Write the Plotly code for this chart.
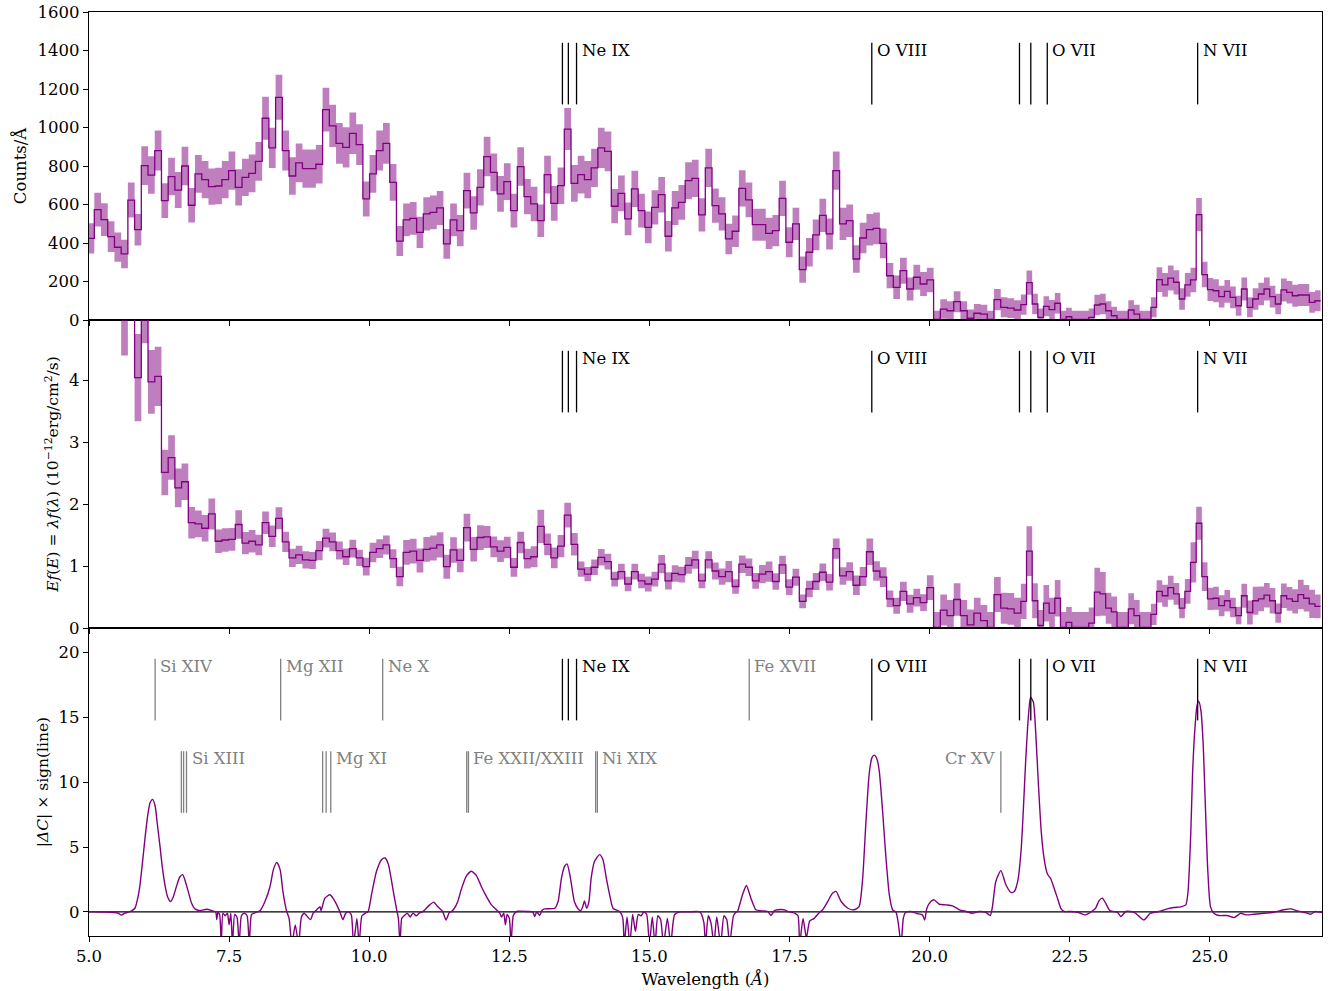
import numpy as np
import plotly.graph_objects as go
from plotly.subplots import make_subplots

# ---------------- data ----------------
# bin edges (Angstrom): two regions of slightly different bin width
edges_a = 4.975 + 0.1198 * np.arange(140)
edges_b = edges_a[-1] + 0.1009 * np.arange(1, 54)
bin_edges = np.concatenate([edges_a, edges_b])

counts = [424,
    573, 521, 433, 378, 343, 623, 469, 802, 753, 880, 620, 745, 675, 800, 596, 759, 729, 693, 696, 729,
    776, 689, 741, 762, 824, 1048, 894, 1157, 880, 748, 816, 786, 786, 809, 1093, 1008, 918, 897, 970, 911,
    629, 759, 880, 918, 715, 410,
    520, 528, 455, 551, 559, 582, 395, 520, 464, 672, 556, 689, 849, 767, 655, 719, 568, 797, 641, 603,
    516, 755, 606, 698, 992, 710, 755, 729, 790, 894, 876, 591, 658, 525, 681, 568, 481, 585, 651, 435,
    582, 611, 724, 736, 546, 790,
    594, 551, 421, 461, 684, 624, 495, 495, 450, 464, 632, 404, 499, 262, 352, 442, 544, 447, 776, 499,
    516, 317, 426, 469, 476, 398, 230, 170, 256, 161, 222, 187, 208, 3, 57, 48, 95, 48, 9, 35,
    31, 3, 106, 66, 62, 52,
    80, 194, 83, 14, 71, 54, 87, 3, 17, 3, 3, 3, 14, 78, 83, 48, 22, 3, 3, 52,
    31, 3, 3, 66, 210, 182, 218, 196, 109, 182, 208, 547, 236, 158, 152, 121, 149, 118, 74, 161,
    66, 109, 135, 161, 121, 83, 156, 144, 126, 130, 130, 92, 100]

flux = [9.0,
    8.5, 8.0, 7.5, 7.0, 5.6, 6.5, 4.04, 5.25, 3.97, 4.06, 2.51, 2.75, 2.26, 2.36, 1.70, 1.68, 1.61, 1.84, 1.40, 1.42,
    1.43, 1.67, 1.37, 1.40, 1.34, 1.70, 1.48, 1.77, 1.39, 1.13, 1.18, 1.10, 1.09, 1.25, 1.45, 1.39, 1.25, 1.15, 1.28, 1.13,
    0.99, 1.22, 1.28, 1.34, 1.12, 0.83,
    1.22, 1.24, 1.09, 1.27, 1.29, 1.34, 0.99, 1.26, 1.09, 1.62, 1.27, 1.46, 1.47, 1.31, 1.24, 1.30, 0.98, 1.38, 1.12, 1.15,
    1.64, 1.35, 1.13, 1.32, 1.82, 1.35, 0.95, 0.87, 0.98, 1.14, 1.07, 0.79, 0.91, 0.71, 0.91, 0.76, 0.71, 0.79, 1.03, 0.76,
    0.88, 0.86, 1.01, 1.10, 0.76, 1.10,
    0.92, 0.83, 0.91, 0.67, 1.03, 0.98, 0.76, 0.87, 0.91, 0.75, 1.02, 0.66, 0.82, 0.43, 0.63, 0.75, 0.90, 0.74, 1.28, 0.84,
    0.91, 0.69, 0.83, 1.23, 0.92, 0.82, 0.47, 0.36, 0.59, 0.39, 0.49, 0.41, 0.65, 0.01, 0.29, 0.20, 0.46, 0.20, 0.05, 0.24,
    0.12, 0.01, 0.54, 0.32, 0.31, 0.24,
    0.43, 1.24, 0.44, 0.04, 0.40, 0.24, 0.48, 0.01, 0.09, 0.01, 0.01, 0.01, 0.08, 0.58, 0.55, 0.32, 0.26, 0.01, 0.01, 0.31,
    0.20, 0.01, 0.01, 0.22, 0.59, 0.52, 0.65, 0.55, 0.32, 0.59, 1.06, 1.69, 0.83, 0.47, 0.48, 0.36, 0.44, 0.33, 0.20, 0.52,
    0.25, 0.44, 0.47, 0.53, 0.44, 0.24, 0.52, 0.47, 0.43, 0.54, 0.48, 0.39, 0.35]

dc_wavelength = [4.93, 5.10, 5.30, 5.45, 5.52, 5.58, 5.64, 5.70, 5.76, 5.82, 5.87, 5.91, 5.95, 6.00, 6.05, 6.09, 6.135,
    6.18, 6.22, 6.27, 6.31, 6.36, 6.40, 6.455, 6.50, 6.56, 6.62, 6.67, 6.71, 6.77, 6.83, 6.89, 6.98, 7.10, 7.19, 7.26,
    7.28, 7.30, 7.33, 7.36, 7.39, 7.43, 7.47, 7.50, 7.53, 7.56, 7.60, 7.64, 7.68, 7.72, 7.77, 7.82, 7.86, 7.90, 7.95, 8.00,
    8.05, 8.14, 8.23, 8.29, 8.35, 8.41, 8.46, 8.52, 8.57, 8.62, 8.68, 8.74, 8.79, 8.84, 8.95, 9.00,
    9.06, 9.12, 9.14, 9.21, 9.30, 9.39, 9.47, 9.53, 9.58, 9.63, 9.68, 9.72, 9.78, 9.82, 9.87, 9.93,
    9.98, 10.04, 10.13, 10.22, 10.28, 10.34, 10.43, 10.49, 10.52, 10.55, 10.58, 10.62, 10.68, 10.73, 10.78, 10.84, 10.90, 10.95,
    10.99, 11.08, 11.15, 11.22, 11.31, 11.37, 11.43, 11.46, 11.52, 11.58, 11.64, 11.73, 11.82, 11.91, 12.00, 12.09, 12.18, 12.27,
    12.33, 12.36, 12.40, 12.43, 12.46, 12.50, 12.53, 12.57, 12.62,
    12.65, 12.83, 12.92, 12.95, 12.99, 13.04, 13.08, 13.13, 13.31, 13.37, 13.43, 13.485, 13.53, 13.59, 13.66, 13.72, 13.77,
    13.81, 13.84, 13.88, 13.92, 13.96, 14.02, 14.11, 14.17, 14.23, 14.29, 14.35, 14.47, 14.525, 14.55, 14.60, 14.65, 14.70,
    14.75, 14.80, 14.85, 14.90, 14.95, 15.00, 15.05, 15.10, 15.15, 15.20, 15.25, 15.32, 15.38, 15.45, 15.55, 15.70, 15.90,
    15.97, 16.00, 16.05, 16.10, 16.15, 16.20, 16.27, 16.33, 16.38, 16.43, 16.50, 16.55,
    16.57, 16.66, 16.73, 16.81, 16.90, 16.99, 17.11, 17.17, 17.23, 17.29, 17.41, 17.47, 17.59, 17.65, 17.68, 17.74, 17.80,
    17.86, 17.94, 18.02, 18.09, 18.18, 18.27, 18.33, 18.42, 18.54, 18.65, 18.74, 18.80, 18.86, 18.92, 18.97, 19.01, 19.06,
    19.10, 19.16, 19.22, 19.28, 19.34, 19.40, 19.44, 19.49, 19.53, 19.57, 19.66, 19.78, 19.87, 19.91, 19.95, 20.02, 20.08,
    20.17, 20.29, 20.41, 20.53, 20.65, 20.76, 20.88, 21.00, 21.08, 21.12, 21.18, 21.27, 21.36, 21.45, 21.51, 21.57, 21.63,
    21.67, 21.71, 21.76, 21.80, 21.85, 21.89, 21.94, 21.99, 22.04, 22.10, 22.16, 22.22, 22.28, 22.34, 22.40, 22.52, 22.64,
    22.78, 22.87, 22.96, 23.02, 23.08, 23.14, 23.22, 23.35, 23.41, 23.50, 23.65, 23.82, 23.94, 24.09, 24.24, 24.36, 24.48,
    24.57, 24.61, 24.66, 24.69, 24.73, 24.77, 24.80, 24.84, 24.88, 24.92, 24.96, 25.01, 25.07, 25.16, 25.31, 25.43, 25.55,
    25.64, 25.79, 25.96, 26.14, 26.32, 26.44, 26.56, 26.68, 26.80, 26.88, 26.97, 27.05]

dc_value = [0.0, 0.0, -0.02, -0.05, -0.1, -0.25, -0.1, -0.02, 0.08, 0.28, 1.06, 2.09, 3.64, 5.71, 7.52, 8.42, 8.68,
    8.17, 6.74, 4.94, 3.39, 1.96, 1.19, 0.80, 1.11, 1.96, 2.69, 2.87, 2.48, 1.58, 0.67, 0.23, 0.10, 0.20, 0.10, 0.0,
    -0.6, -0.05, -0.2, -2.5, -0.1, -0.3, -0.1, -1.0, -0.1, -2.5, -0.2, -0.4, -2.5, -0.3, -0.1, -0.3, -2.5, -0.2, -0.1, 0.0,
    0.08, 0.8, 1.96, 3.26, 3.82, 3.26, 1.58, 0.15, -0.5, -2.5, -1.0, -2.5, -0.4, -0.1, -0.6, -0.1,
    0.15, 0.4, 0.1, 1.06, 1.32, 0.8, 0.08, -0.6, -0.1, 0.0, -0.23, -2.5, -0.5, -2.5, -0.3, -0.1,
    0.03, 1.32, 3.13, 4.03, 4.16, 3.70, 1.58, 0.16, -0.5, -2.5, -0.5, -0.3, -0.1, -0.4, -0.1, -0.3, -0.05, 0.0,
    0.15, 0.54, 0.75, 0.41, 0.03, -0.62, -0.03, 0.0, 0.28, 0.8, 1.7, 2.74, 3.13, 2.82, 1.96, 1.19, 0.54, 0.16,
    -0.1, -0.4, -0.1, -1.0, -0.2, -0.5, -2.5, -0.3, 0.0,
    0.05, 0.03, 0.0, -0.36, 0.0, -0.28, 0.1, 0.23, 0.28, 0.8, 2.61, 3.51, 3.70, 2.61, 0.8, 0.28, 0.08,
    0.41, 0.85, 0.28, 0.8, 2.61, 3.90, 4.42, 4.03, 2.61, 1.32, 0.28, 0.03, -0.5, -2.5, -0.4, -2.5, -0.2,
    -1.5, -0.2, -0.3, 0.0, -0.2, -2.5, -0.4, -2.5, -0.3, -0.6, -2.5, -0.5, -2.5, -0.2, 0.0, 0.0, 0.0,
    -0.8, -2.5, -0.3, -0.9, -2.5, -0.4, -2.5, -0.3, -0.6, -2.5, -0.3, 0.0,
    0.03, 1.32, 2.04, 1.06, 0.16, 0.08, 0.03, -0.28, 0.1, 0.16, 0.16, 0.03, -0.1, -0.3, -2.5, -0.5, -2.0,
    -0.7, -0.5, -0.1, 0.16, 0.8, 1.45, 1.58, 0.8, 0.28, 0.16, 0.41, 2.35, 6.74, 10.62, 11.9, 12.09, 11.78,
    10.88, 7.78, 4.16, 1.32, 0.16, -0.03, -0.88, -2.5, -0.5, -0.05, 0.03, -0.13, -0.23, -0.62, 0.28, 0.8, 0.93,
    0.59, 0.54, 0.47, 0.16, 0.03, -0.1, 0.03, -0.03, -0.28, 0.41, 2.35, 3.18, 2.09, 1.5, 1.58, 2.35, 4.68,
    7.78, 11.4, 15.0, 16.56, 16.18, 13.98, 9.84, 6.23, 4.16, 2.92, 2.56, 1.83, 1.06, 0.28, 0.03, 0.03, -0.03,
    -0.23, -0.03, 0.28, 0.85, 1.06, 0.67, 0.08, -0.03, -0.36, 0.03, -0.03, -0.62, -0.1, 0.03, 0.23, 0.34, 0.39,
    0.54, 1.58, 6.23, 10.62, 13.98, 15.92, 16.25, 15.53, 12.95, 8.04, 3.39, 0.41, -0.1, -0.28, -0.28, -0.44, -0.1,
    -0.23, -0.18, -0.1, -0.03, 0.16, 0.23, 0.08, -0.03, -0.18, 0.03, -0.03, 0.0]

# emission-line identifications
main_line_names = ["Ne IX", "O VIII", "O VII", "N VII"]
main_line_waves = [[13.447, 13.553, 13.699], [18.967], [21.602, 21.804, 22.098], [24.781]]
upper_gray_names = ["Si XIV", "Mg XII", "Ne X", "Fe XVII"]
upper_gray_waves = [[6.18], [8.42], [10.24], [16.78]]
lower_gray_names = ["Si XIII", "Mg XI", "Fe XXII/XXIII", "Ni XIX", "Cr XV"]
lower_gray_waves = [[6.648, 6.688, 6.740], [9.169, 9.231, 9.314], [11.74, 11.77], [14.04, 14.07], [21.27]]

# ---------------- derived ----------------
counts = np.array(counts, float)
flux = np.array(flux, float)
counts_err = np.sqrt(10.0 * counts + 2000.0)
rel = counts_err / np.maximum(counts, 1.0)
flux_err = np.where(counts >= 60, flux * rel, 0.25)

PURPLE = "#800080"
BAND = "rgba(128,0,128,0.5)"
GRAY = "#808080"
FONT = "DejaVu Serif"
FS = 16.5

fig = make_subplots(rows=3, cols=1, shared_xaxes=True, vertical_spacing=0)


def step_band(vals, errs, row):
    y_lo = list(vals - errs) + [vals[-1] - errs[-1]]
    y_hi = list(vals + errs) + [vals[-1] + errs[-1]]
    y_mid = list(vals) + [vals[-1]]
    fig.add_trace(go.Scatter(x=bin_edges, y=y_lo, mode="lines", line=dict(width=0, shape="hv"),
                             hoverinfo="skip", showlegend=False), row=row, col=1)
    fig.add_trace(go.Scatter(x=bin_edges, y=y_hi, mode="lines", line=dict(width=0, shape="hv"),
                             fill="tonexty", fillcolor=BAND, hoverinfo="skip", showlegend=False), row=row, col=1)
    fig.add_trace(go.Scatter(x=bin_edges, y=y_mid, mode="lines", line=dict(color=PURPLE, width=1.3, shape="hv"),
                             showlegend=False), row=row, col=1)


step_band(counts, counts_err, 1)
step_band(flux, flux_err, 2)

fig.add_trace(go.Scatter(x=dc_wavelength, y=dc_value, mode="lines",
                         line=dict(color=PURPLE, width=1.4, shape="spline", smoothing=0.6),
                         showlegend=False), row=3, col=1)

# zero line in bottom panel
fig.add_shape(type="line", xref="x3 domain", yref="y3", x0=0, x1=1, y0=0, y1=0,
              line=dict(color="black", width=1.3), layer="below")


def mark(names, waves, yref, y0, y1, color, right_side=True):
    xr = yref.replace("y", "x")
    for name, ws in zip(names, waves):
        for w in ws:
            fig.add_shape(type="line", xref=xr, yref=yref + " domain",
                          x0=w, x1=w, y0=y0, y1=y1, line=dict(color=color, width=1.3))
        fig.add_annotation(x=max(ws) if right_side else min(ws), y=y1, xref=xr, yref=yref + " domain",
                           text=name, showarrow=False,
                           xanchor="left" if right_side else "right", yanchor="top",
                           xshift=3 if right_side else -3, yshift=4,
                           font=dict(family=FONT, size=FS, color=color))


for yr in ["y", "y2", "y3"]:
    mark(main_line_names, main_line_waves, yr, 0.7, 0.9, "black")
mark(upper_gray_names, upper_gray_waves, "y3", 0.7, 0.9, GRAY)
mark(lower_gray_names[:4], lower_gray_waves[:4], "y3", 0.4, 0.6, GRAY)
mark(lower_gray_names[4:], lower_gray_waves[4:], "y3", 0.4, 0.6, GRAY, right_side=False)

axis_common = dict(showline=True, linecolor="black", linewidth=1.3, mirror=True,
                   ticks="outside", ticklen=5, tickwidth=1.1, tickcolor="black",
                   showgrid=False, zeroline=False, automargin=False,
                   tickfont=dict(family=FONT, size=FS, color="black"))

for i in (1, 2, 3):
    fig.update_xaxes(range=[5, 27], dtick=2.5, tick0=5, tickformat=".1f",
                     showticklabels=(i == 3), row=i, col=1, **axis_common)

fig.update_xaxes(title=dict(text="Wavelength (<i>Å</i>)", font=dict(family=FONT, size=FS), standoff=8),
                 row=3, col=1)

fig.update_yaxes(range=[0, 1600], dtick=200, row=1, col=1, **axis_common,
                 title=dict(text="Counts/Å", font=dict(family=FONT, size=FS), standoff=6))
fig.update_yaxes(range=[0, 4.97], dtick=1, row=2, col=1, **axis_common,
                 title=dict(text="<i>Ef</i>(<i>E</i>) = <i>λf</i>(<i>λ</i>) (10<sup>−12</sup>erg/cm<sup>2</sup>/s)",
                            font=dict(family=FONT, size=FS - 1), standoff=6))
fig.update_yaxes(range=[-1.86, 21.9], dtick=5, row=3, col=1, **axis_common,
                 title=dict(text="|<i>ΔC</i>| × sign(line)", font=dict(family=FONT, size=FS - 1), standoff=6))

fig.update_layout(width=1330, height=991, margin=dict(l=89, r=8, t=12, b=55),
                  plot_bgcolor="white", paper_bgcolor="white", showlegend=False,
                  font=dict(family=FONT, size=FS, color="black"))

fig.write_html("out.html", config={"displayModeBar": False},
               post_script="document.body.style.margin='0px';document.body.style.padding='0px';"
                           "document.documentElement.style.overflow='hidden';")
